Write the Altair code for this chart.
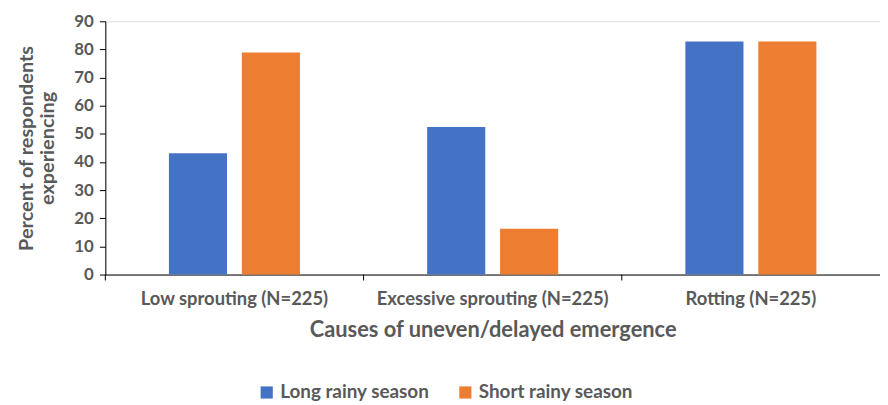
import altair as alt
import pandas as pd

causes = ["Low sprouting (N=225)", "Excessive sprouting (N=225)", "Rotting (N=225)"]
seasons = ["Long rainy season", "Short rainy season"]
long_rainy = [43.1, 52.4, 82.8]
short_rainy = [78.9, 16.3, 82.8]

rows = []
for i, c in enumerate(causes):
    rows.append({"cause": c, "season": seasons[0], "value": long_rainy[i]})
    rows.append({"cause": c, "season": seasons[1], "value": short_rainy[i]})
df = pd.DataFrame(rows)
cat_df = pd.DataFrame({"cause": causes})

FONT = "Lato"
GRAY = "#595959"
W, H = 780, 255

xscale = alt.Scale(domain=causes, paddingInner=0, paddingOuter=0)
xaxis = alt.Axis(title="Causes of uneven/delayed emergence", labelAngle=0,
                 ticks=False, labelPadding=15, titlePadding=12, labelLimit=400,
                 labelFontSize=18.5, titleFontSize=22, domainColor="#000000",
                 labelColor=GRAY, titleColor=GRAY, labelFont=FONT, titleFont=FONT,
                 labelFontWeight="bold", titleFontWeight="bold")

bars = alt.Chart(df).mark_bar().encode(
    x=alt.X("cause:N", sort=causes, scale=xscale, axis=xaxis),
    xOffset=alt.XOffset("season:N", sort=seasons,
                        scale=alt.Scale(paddingInner=0.203, paddingOuter=0.872)),
    y=alt.Y("value:Q", scale=alt.Scale(domain=[0, 90], nice=False),
            axis=alt.Axis(title=["Percent of respondents", "experiencing"], values=list(range(0, 91, 10)),
                          grid=False, tickSize=6, tickColor="#000000", domainColor="#000000",
                          labelFontSize=17, titleFontSize=20, labelPadding=6, titlePadding=16,
                          labelColor=GRAY, titleColor=GRAY, labelFont=FONT, titleFont=FONT,
                          labelFontWeight="bold", titleFontWeight="bold")),
    color=alt.Color("season:N", sort=seasons,
                    scale=alt.Scale(domain=seasons, range=["#4472C4", "#ED7D31"]),
                    legend=alt.Legend(title=None, orient="none", direction="horizontal",
                                      legendX=153, legendY=H + 109, symbolType="square",
                                      symbolSize=150, symbolStrokeWidth=0, labelFontSize=19,
                                      labelFont=FONT, labelFontWeight="bold", labelColor=GRAY,
                                      columnPadding=26, labelLimit=400, symbolOpacity=1)),
)

ticks = alt.Chart(cat_df).mark_rule(color="#000000", strokeWidth=1).encode(
    x=alt.X("cause:N", sort=causes, scale=xscale, bandPosition=0, axis=xaxis),
    y=alt.value(H),
    y2=alt.value(H + 6),
)

chart = alt.layer(bars, ticks).properties(width=W, height=H).configure_view(stroke=None).configure(
    padding={"left": 8, "top": 3, "right": 0, "bottom": 5}
)

chart.save("out.html", embed_options={"renderer": "svg", "actions": False})
